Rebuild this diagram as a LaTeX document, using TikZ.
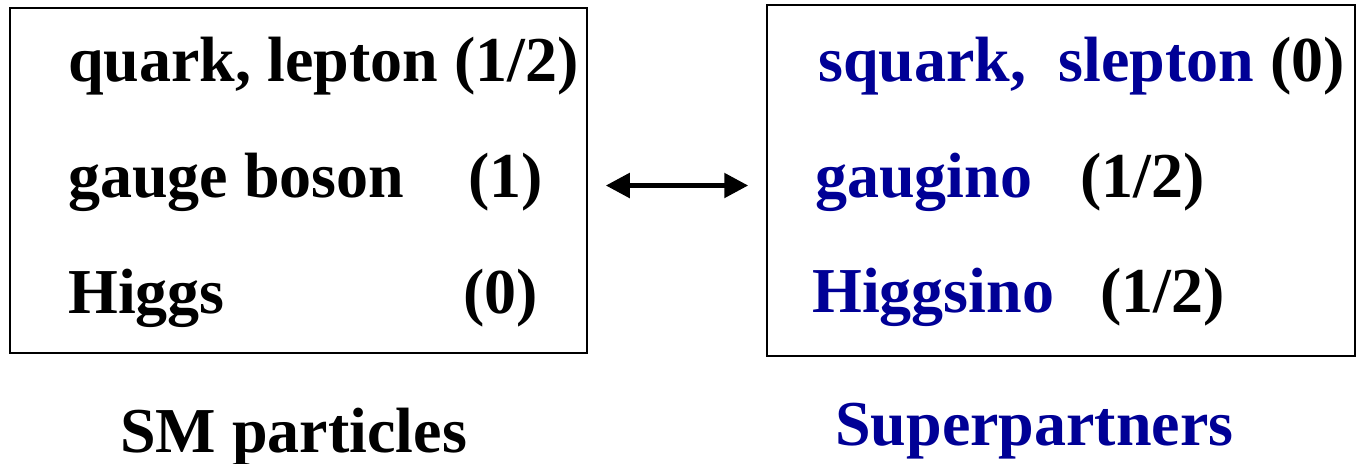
\documentclass[tikz,border=0pt]{standalone}
\usepackage{fontspec}
\setmainfont{Liberation Serif}
\usetikzlibrary{arrows.meta,positioning}
\definecolor{Ink}{HTML}{000000}
\definecolor{Navy}{HTML}{000096}
\tikzset{
  panel/.style={draw=Ink,line width=.75pt,inner sep=0pt},
  lab/.style={anchor=base west,inner sep=0pt,font=\fontsize{32}{37}\selectfont\bfseries,text=Ink},
  slab/.style={lab,text=Navy},
  pair/.style={{Triangle[length=12pt,width=12pt]}-{Triangle[length=12pt,width=12pt]},line width=2.6pt,draw=Ink}
}
\begin{document}
\begin{tikzpicture}[x=.5pt,y=-.5pt]
    \useasboundingbox (0,0) rectangle (1357,463);
    % the two boxes
    \node[panel,minimum width=288.5pt,minimum height=172.5pt] (sm) at (298.5,180.5) {};
    \node[panel,minimum width=294pt,minimum height=175.5pt] (sp) at (1061,180.5) {};
    % SM side
    \node[lab] (q) at (68,81) {quark, lepton (1/2)};
    \node[lab] (g) at (68,197) {gauge boson};
    \node[lab] (gs) at (468,197) {(1)};
    \node[lab] (h) at (68,313) {Higgs};
    \node[lab] (hs) at (463,313) {(0)};
    \node[lab] (smname) at (120,452) {SM particles};
    % superpartner side
    \node[slab] (sq) at (818,81) {squark,};
    \node[slab] (sl) at (1058,81) {slepton};
    \node[lab] (sqs) at (1270,81) {(0)};
    \node[slab] (gn) at (815,197) {gaugino};
    \node[lab] (gns) at (1080,197) {(1/2)};
    \node[slab] (hn) at (812,312) {Higgsino};
    \node[lab] (hns) at (1100,312) {(1/2)};
    \node[slab] (spname) at (835,445) {Superpartners};
    \draw[pair,shorten <=9pt,shorten >=9pt] ([yshift=-2.5pt]sm.east)--([yshift=-2.5pt]sp.west);
  \end{tikzpicture}
\end{document}
